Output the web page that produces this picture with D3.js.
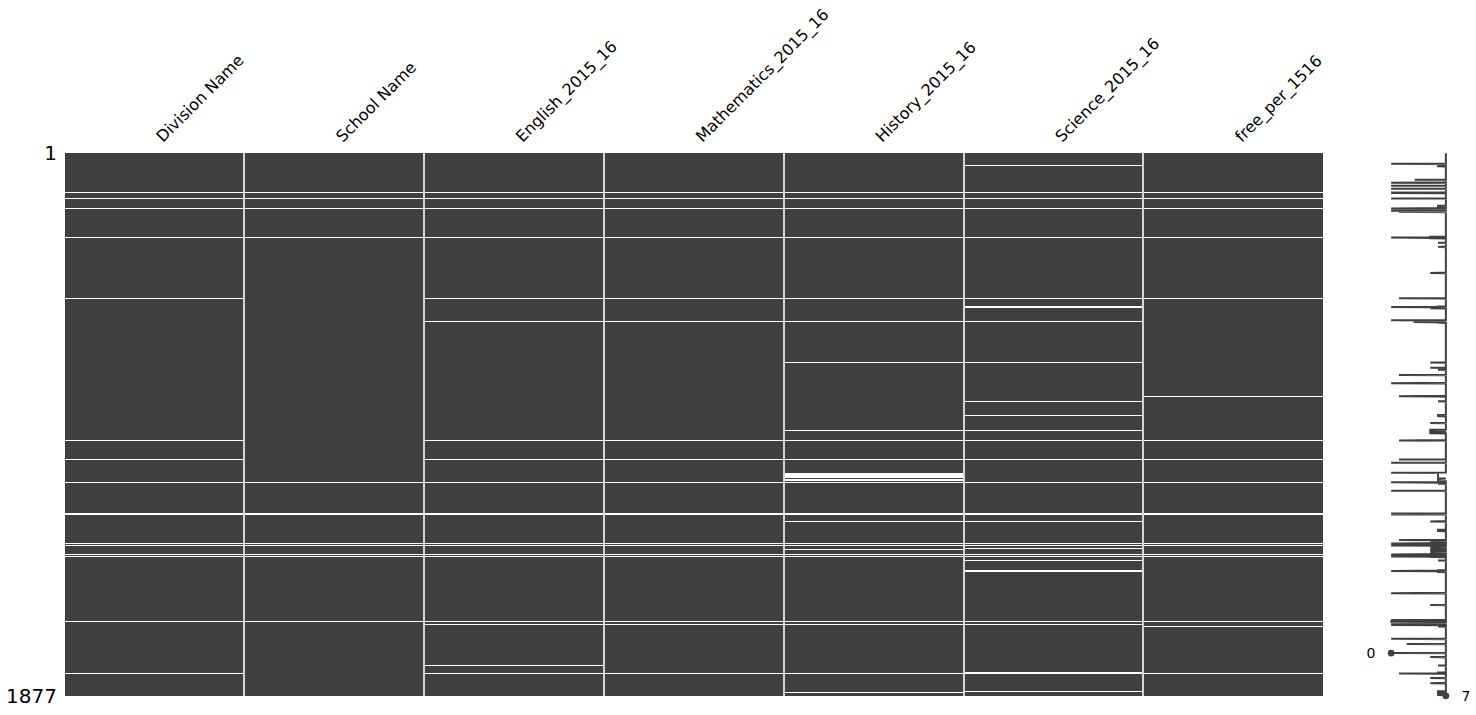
<!DOCTYPE html>
<html><head><meta charset="utf-8">
<script src="https://cdn.jsdelivr.net/npm/d3@7"></script>
<style>html,body{margin:0;padding:0;background:#fff;} svg{display:block;font-family:"DejaVu Sans",sans-serif;}</style>
</head><body><svg id="chart" width="1476" height="715"></svg>
<script>
// ---------------- data ----------------
const columns = ["Division Name","School Name","English_2015_16","Mathematics_2015_16","History_2015_16","Science_2015_16","free_per_1516"];
const nRows = 1877;
const yTickLabels = [1, 1877];

// rows (0-based) where every column is empty
const rowsAllMissing = [37,102,113,123,136,138,157,191,199,292,532,578,795,1070,1105,1138,1167,1246,1249,1349,1356,1387,1394,1444,1521,1614,1617,1619,1620,1623,1627,1631,1679,1728];
// rows where only "School Name" is present
const rowsOnlySchool = [203,502,767,840,993,1059,1337,1799];
// rows where the four score columns are empty
const rowsScoresMissing = [92,580,581,582,583,584,1629];
// rows where Division Name and the four score columns are empty
const rowsDivisionScoresMissing = [1697];
// rows where History and Science are empty
const rowsHistSciMissing = [289,290,293,294,414,536,724,742,933,956,957,958,959,960,961,963,964,965,967,968,1273,1341,1344,1351,1354,1358,1362,1365,1372,1376,1379,1382,1389,1392,1396,1562,1742,1814,1832];
// single-column gaps
const rowsEnglishOnly = [1771];
const rowsHistoryOnly = [324,1106,1107,1108,1109,1110,1111,1112,1113,1114,1115,1116,1117,1118,1119,1120,1121,1122,1123,1124,1126,1127,1128,1129,1130,1131,1132,1133,1370,1863,1864,1865,1869,1870];
const rowsScienceOnly = [40,41,42,43,44,45,182,183,185,186,310,530,531,533,534,535,586,749,858,905,906,907,908,909,1136,1140,1143,1367,1408,1442,1443,1445,1446,1447,1448,1795,1796,1797,1798,1860,1861,1862,1872,1873];
const rowsFreeOnly = [841,1302,1303,1305,1306,1636];

// ---------------- build missing sets per column ----------------
const missingByColumn = [
  [rowsAllMissing, rowsOnlySchool, rowsDivisionScoresMissing],
  [rowsAllMissing],
  [rowsAllMissing, rowsOnlySchool, rowsScoresMissing, rowsDivisionScoresMissing, rowsEnglishOnly],
  [rowsAllMissing, rowsOnlySchool, rowsScoresMissing, rowsDivisionScoresMissing],
  [rowsAllMissing, rowsOnlySchool, rowsScoresMissing, rowsDivisionScoresMissing, rowsHistSciMissing, rowsHistoryOnly],
  [rowsAllMissing, rowsOnlySchool, rowsScoresMissing, rowsDivisionScoresMissing, rowsHistSciMissing, rowsScienceOnly],
  [rowsAllMissing, rowsOnlySchool, rowsFreeOnly]
].map(groups => new Set(groups.flat()));

const completeness = d3.range(nRows).map(r => columns.length - missingByColumn.filter(s => s.has(r)).length);

// ---------------- layout ----------------
const svg = d3.select("#chart");
const matTop = 153, matH = 543, matLeft = 64.6, matRight = 1323.2;
const dark = "#404040";

const x = d3.scaleBand().domain(columns).range([matLeft, matRight]).padding(0);
const yRow = d3.scaleLinear().domain([-0.5, nRows - 0.5]).range([matTop, matTop + matH]);

// matrix background per column
const g = svg.append("g");
g.selectAll("rect.col").data(columns).join("rect")
  .attr("class","col")
  .attr("x", d => x(d)).attr("width", x.bandwidth())
  .attr("y", matTop).attr("height", matH)
  .attr("fill", dark).attr("shape-rendering","crispEdges");

// missing lines: nearest-row sampling per pixel row (like imshow)
const pixelRows = d3.range(matH);
columns.forEach((c, ci) => {
  const runs = [];
  pixelRows.forEach(p => {
    const row = Math.floor(yRow.invert(matTop + p + 0.5) + 0.5);
    if (missingByColumn[ci].has(row)) {
      const last = runs[runs.length - 1];
      if (last && last.p1 === p) last.p1 = p + 1; else runs.push({p0: p, p1: p + 1});
    }
  });
  g.selectAll(null).data(runs).join("rect")
    .attr("x", x(c)).attr("width", x.bandwidth())
    .attr("y", d => matTop + d.p0).attr("height", d => d.p1 - d.p0)
    .attr("fill", "#ffffff").attr("shape-rendering","crispEdges");
});

// column separators
g.selectAll("rect.sep").data(columns.slice(1)).join("rect")
  .attr("class","sep")
  .attr("x", d => Math.round(x(d)) - 1).attr("width", 2)
  .attr("y", matTop).attr("height", matH)
  .attr("fill", "#d4d4d4").attr("shape-rendering","crispEdges");

// column labels
svg.selectAll("text.collab").data(columns).join("text")
  .attr("class","collab")
  .attr("transform", d => `translate(${x(d) + x.bandwidth()/2 + 8.5},${143}) rotate(-45)`)
  .attr("font-size", 16).attr("fill", "#000")
  .text(d => d);

// y tick labels
svg.selectAll("text.ytick").data(yTickLabels).join("text")
  .attr("class","ytick")
  .attr("x", 57).attr("y", d => yRow(d - 1))
  .attr("dy", "0.36em")
  .attr("text-anchor","end").attr("font-size", 20).attr("fill","#000")
  .text(d => d);

// ---------------- sparkline ----------------
const minC = d3.min(completeness), maxC = d3.max(completeness);
const xs = d3.scaleLinear().domain([minC - 2, maxC + 2]).range([1375.5, 1461.5]);
const rowsIdx = d3.range(nRows);
svg.append("path")
  .datum(rowsIdx)
  .attr("fill","none").attr("stroke", dark).attr("stroke-width", 2)
  .attr("stroke-linejoin","miter").attr("stroke-miterlimit", 2)
  .attr("d", d3.line().x(r => xs(completeness[r])).y(r => yRow(r)));

// min / max markers (last occurrence from the bottom like missingno)
let minRow = -1, maxRow = -1;
for (let r = nRows - 1; r >= 0; r--) {
  if (minRow < 0 && completeness[r] === minC) minRow = r;
  if (maxRow < 0 && completeness[r] === maxC) maxRow = r;
}
const marks = [{v: minC, r: minRow, side: "min"}, {v: maxC, r: maxRow, side: "max"}];
svg.selectAll("circle.mark").data(marks).join("circle")
  .attr("cx", d => xs(d.v)).attr("cy", d => yRow(d.r)).attr("r", 3.4).attr("fill", dark);
svg.selectAll("text.mark").data(marks).join("text")
  .attr("x", d => d.side === "min" ? xs(d.v - 2) : xs(d.v + 2))
  .attr("y", d => yRow(d.r)).attr("dy","0.36em")
  .attr("text-anchor", d => d.side === "min" ? "end" : "start")
  .attr("font-size", 14).attr("fill","#000")
  .text(d => d.v);
</script></body></html>
